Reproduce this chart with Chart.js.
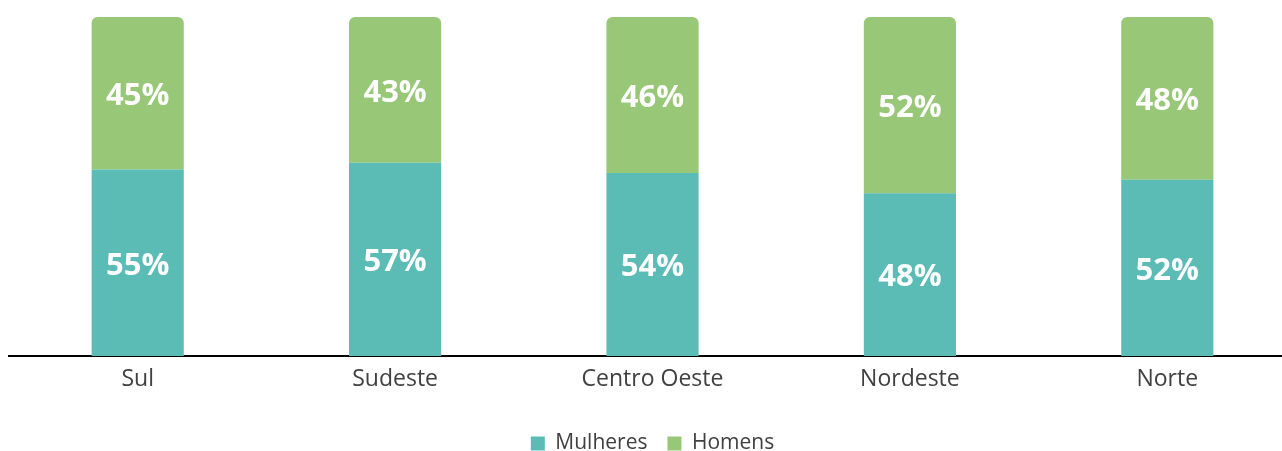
<!DOCTYPE html>
<html>
<head>
<meta charset="utf-8">
<script src="https://cdn.jsdelivr.net/npm/chart.js@4"></script>
<style>
  html, body { margin: 0; padding: 0; background: #fff; overflow: hidden; }
  #wrap { width: 1296px; height: 451px; }
</style>
</head>
<body>
<div id="wrap"><canvas id="regiao-chart"></canvas></div>
<script>
const regioes = ['Sul', 'Sudeste', 'Centro Oeste', 'Nordeste', 'Norte'];
const mulheres = [55, 57, 54, 48, 52];
const homens = [45, 43, 46, 52, 48];

const ctx = document.getElementById('regiao-chart').getContext('2d');

// white percentage labels in the middle of each segment
const segmentLabels = {
    id: 'segmentLabels',
    afterDatasetsDraw(chart) {
        const c = chart.ctx;
        c.save();
        c.fillStyle = '#ffffff';
        c.font = 'bold 31px "Open Sans", sans-serif';
        c.textAlign = 'center';
        c.textBaseline = 'middle';
        chart.data.datasets.forEach((ds, i) => {
            chart.getDatasetMeta(i).data.forEach((bar, j) => {
                const mid = (bar.y + bar.base) / 2;
                c.fillText(ds.data[j] + '%', bar.x, mid + 3);
            });
        });
        c.restore();
    }
};

new Chart(ctx, {
    type: 'bar',
    data: {
        labels: regioes,
        datasets: [{
            label: 'Mulheres',
            data: mulheres,
            backgroundColor: '#5BBCB5'
        }, {
            label: 'Homens',
            data: homens,
            backgroundColor: '#97C777',
            borderRadius: { topLeft: 6, topRight: 6, bottomLeft: 0, bottomRight: 0 },
            borderSkipped: 'bottom'
        }]
    },
    options: {
        responsive: true,
        maintainAspectRatio: false,
        animation: false,
        datasets: { bar: { barPercentage: 1, categoryPercentage: 0.358 } },
        layout: { padding: { left: 9, right: 0, top: 17, bottom: -13 } },
        plugins: {
            legend: {
                position: 'bottom',
                labels: {
                    boxWidth: 14,
                    boxHeight: 14,
                    padding: 20,
                    color: '#404040',
                    font: { size: 21, family: '"Open Sans", sans-serif' }
                }
            },
            tooltip: { enabled: false }
        },
        scales: {
            x: {
                stacked: true,
                grid: { display: false, drawTicks: false },
                border: { color: '#000000', width: 2 },
                ticks: {
                    color: '#404040',
                    padding: 10,
                    font: { size: 23, family: '"Open Sans", sans-serif' }
                },
                afterFit(scale) { scale.height = 57; }
            },
            y: {
                stacked: true,
                display: false,
                min: 0,
                max: 100
            }
        }
    },
    plugins: [segmentLabels]
});
</script>
</body>
</html>
